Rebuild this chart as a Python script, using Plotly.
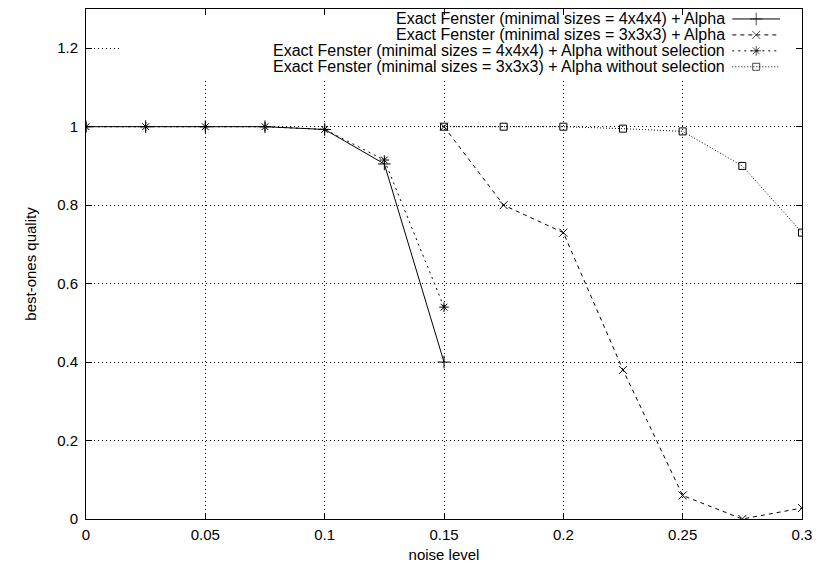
import plotly.graph_objects as go

# noise levels
x_low = [0, 0.025, 0.05, 0.075, 0.1, 0.125, 0.15]
x_high = [0.15, 0.175, 0.2, 0.225, 0.25, 0.275, 0.3]

# best-ones quality per series
q_44_alpha = [1.0, 1.0, 1.0, 1.0, 0.993, 0.905, 0.40]
q_33_alpha = [1.0, 0.80, 0.73, 0.38, 0.06, 0.0, 0.028]
q_44_nosel = [1.0, 1.0, 1.0, 1.0, 0.993, 0.915, 0.54]
q_33_nosel = [1.0, 1.0, 1.0, 0.995, 0.988, 0.90, 0.73]

names = [
    "Exact Fenster (minimal sizes = 4x4x4) + Alpha",
    "Exact Fenster (minimal sizes = 3x3x3) + Alpha",
    "Exact Fenster (minimal sizes = 4x4x4) + Alpha without selection",
    "Exact Fenster (minimal sizes = 3x3x3) + Alpha without selection",
]

x_ticks = [0, 0.05, 0.1, 0.15, 0.2, 0.25, 0.3]
x_tick_text = ["0", "0.05", "0.1", "0.15", "0.2", "0.25", "0.3"]
y_ticks = [0, 0.2, 0.4, 0.6, 0.8, 1.0, 1.2]
y_tick_text = ["0", "0.2", "0.4", "0.6", "0.8", "1", "1.2"]

FONT = "Liberation Sans, Arial, sans-serif"

styles = [
    dict(dash="solid", symbol="cross-thin-open", size=9),
    dict(dash="4px,4px", symbol="x-thin-open", size=8),
    dict(dash="2px,4px", symbol="asterisk-open", size=8),
    dict(dash="1px,2px", symbol="square-open", size=7),
]
series = [
    (x_low, q_44_alpha),
    (x_high, q_33_alpha),
    (x_low, q_44_nosel),
    (x_high, q_33_nosel),
]

fig = go.Figure()

for (xs, ys), st, name in zip(series, styles, names):
    fig.add_trace(go.Scatter(
        x=xs, y=ys, name=name, mode="lines+markers",
        line=dict(color="black", width=1, dash=st["dash"]),
        marker=dict(symbol=st["symbol"], size=st["size"], color="black",
                    line=dict(color="black", width=1)),
        showlegend=False,
    ))

# gnuplot-style key: text right-aligned, sample on the right (pixel coords on overlay axes)
row_y = [18, 34, 50, 66]
for ry, st, name in zip(row_y, styles, names):
    fig.add_trace(go.Scatter(
        x=[735, 759, 783], y=[ry, ry, ry], mode="lines+markers",
        xaxis="x2", yaxis="y2",
        line=dict(color="black", width=1, dash=st["dash"]),
        marker=dict(symbol=st["symbol"], size=[0, st["size"], 0], color="black",
                    line=dict(color="black", width=1)),
        showlegend=False, hoverinfo="skip",
    ))
    fig.add_annotation(
        x=730, y=ry, xref="x2", yref="y2", text=name, showarrow=False,
        xanchor="right", yanchor="middle",
        font=dict(family=FONT, size=16, color="black"),
    )

# key background hides the grid behind it
fig.add_shape(
    type="rect", xref="x", yref="y", x0=0.015, x1=0.298, y0=1.12, y1=1.3,
    fillcolor="white", line_width=0, layer="between",
)

# page body adds 8px on each side, so the figure is shrunk to fit the window
fig.update_layout(
    width=804, height=555,
    paper_bgcolor="white", plot_bgcolor="white",
    margin=dict(l=78, r=7, t=0, b=43, pad=0),
    font=dict(family=FONT, size=15, color="black"),
    xaxis=dict(
        range=[0, 0.3], tickvals=x_ticks, ticktext=x_tick_text,
        showline=True, linecolor="black", linewidth=1, mirror="ticks",
        ticks="inside", ticklen=6, tickcolor="black",
        showgrid=True, gridcolor="black", griddash="1px,3px", gridwidth=1,
        zeroline=False, ticklabelstandoff=2, ticklabeloverflow="allow",
        title=dict(text="noise level", standoff=9, font=dict(size=15)),
    ),
    yaxis=dict(
        range=[0, 1.3], tickvals=y_ticks, ticktext=y_tick_text,
        showline=True, linecolor="black", linewidth=1, mirror="ticks",
        ticks="inside", ticklen=6, tickcolor="black",
        showgrid=True, gridcolor="black", griddash="1px,3px", gridwidth=1,
        zeroline=False, ticklabelstandoff=4,
        title=dict(text="best-ones quality", standoff=16, font=dict(size=15)),
    ),
    xaxis2=dict(range=[86, 805], overlaying="x", visible=False, fixedrange=True),
    yaxis2=dict(range=[520, 8], overlaying="y", visible=False, fixedrange=True),
)

fig.write_html("out.html")
